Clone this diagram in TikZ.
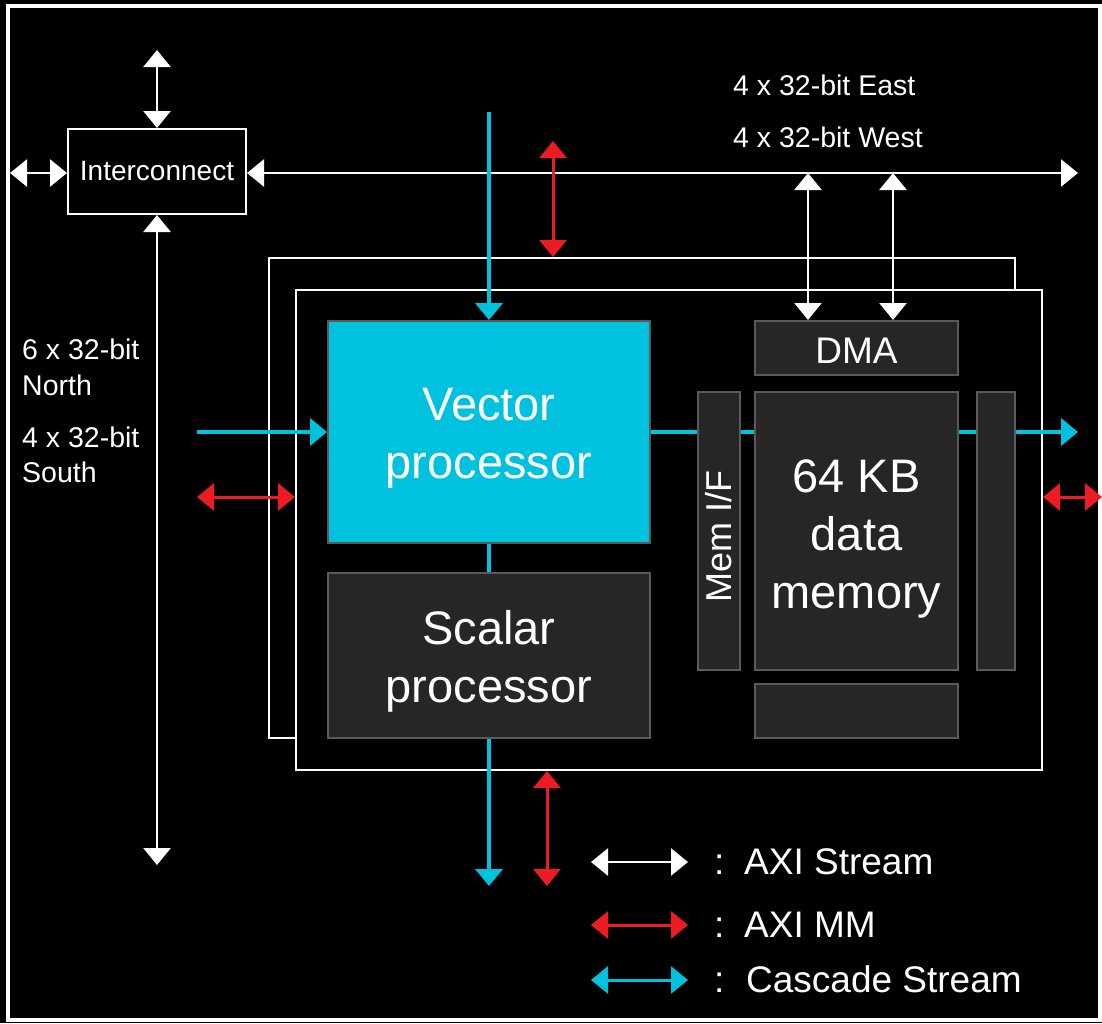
\documentclass[tikz,border=0pt]{standalone}
\usepackage{fontspec}
\setmainfont{Liberation Sans}
\usetikzlibrary{arrows.meta}
\definecolor{cyanc}{HTML}{00C1DE}
\definecolor{redc}{HTML}{ED1C24}
\definecolor{boxfill}{HTML}{262626}
\definecolor{boxline}{HTML}{5A5A5A}
\tikzset{
  tipw/.tip={Triangle[width=27pt,length=17pt]},
  wharrow/.style={white, line width=2.5pt},
  cyarrow/.style={cyanc, line width=4pt},
  rdarrow/.style={redc, line width=3pt},
  darkbox/.style={draw=boxline, fill=boxfill, line width=2pt, inner sep=0pt, text=white, align=center},
  framebox/.style={draw=white, fill=black, line width=2pt, inner sep=0pt},
  smalltxt/.style={text=white, font=\fontsize{28.5}{34}\selectfont, inner sep=0pt},
  bigtxt/.style={text=white, align=center, inner sep=0pt, font=\fontsize{47}{58}\selectfont},
}
\begin{document}
\begin{tikzpicture}[x=1pt,y=-1pt]
\fill[black] (0,0) rectangle (1102,1023);
\useasboundingbox (0,0) rectangle (1102,1023);
\draw[white, line width=3.5pt] (8,6) rectangle (1100,1020);

% tile frames
\node[framebox, minimum width=746pt, minimum height=480pt] (back) at (642,498) {};
\node[framebox, minimum width=746pt, minimum height=480pt] (front) at (669,530) {};

% interconnect
\node[framebox, minimum width=178pt, minimum height=85pt, text=white, font=\fontsize{28}{32}\selectfont] (ic) at (157,171.5) {Interconnect};

% processors
\node[darkbox, fill=cyanc, minimum width=322pt, minimum height=222pt] (vec) at (489,432) {};
\node[bigtxt, yshift=-6pt] (vect) at (vec.center) {Vector\\processor};
\node[darkbox, minimum width=322pt, minimum height=165pt] (scal) at (489,655.5) {};
\node[bigtxt, yshift=-6pt] (scalt) at (scal.center) {Scalar\\processor};

% memory side
\node[darkbox, minimum width=203pt, minimum height=54pt] (dma) at (856.5,348) {};
\node[text=white, inner sep=0pt, font=\fontsize{37}{44}\selectfont, yshift=-3pt] (dmat) at (dma.center) {DMA};
\node[darkbox, minimum width=42pt, minimum height=278pt] (mem) at (719,531) {};
\node[text=white, inner sep=0pt, rotate=90, font=\fontsize{36}{42}\selectfont] (memt) at (719,536) {Mem I/F};
\node[darkbox, minimum width=203pt, minimum height=278pt] (data) at (856.5,531) {};
\node[bigtxt, yshift=-8pt] (datat) at (data.center) {64 KB\\data\\memory};
\node[darkbox, minimum width=38pt, minimum height=278pt] (rbox) at (996,531) {};
\node[darkbox, minimum width=203pt, minimum height=54pt] (bbox) at (856.5,711) {};

% coordinates
\coordinate (icTop) at (157,50);
\coordinate (icLeft) at (10,173);
\coordinate (icRight) at (1078,173);
\coordinate (icBot) at (157,865);
\coordinate (cyTop) at (489,112);
\coordinate (rdTop) at (553,141);
\coordinate (cyLeft) at (197,432);
\coordinate (cyRight) at (1078,432);
\coordinate (rdLeft) at (197,497);
\coordinate (rdRight) at (1102,497);
\coordinate (cyBot) at (489,886);
\coordinate (rdBot) at (547,886);
\coordinate (dmaA) at (808,321);
\coordinate (dmaB) at (893,321);

% interconnect arrows
\draw[wharrow, {tipw}-{tipw}] (icTop) -- (ic.north);
\draw[wharrow, {tipw}-{tipw}] (icLeft) -- (icLeft -| ic.west);
\draw[wharrow, {tipw}-{tipw}] (icLeft -| ic.east) -- (icRight);
\draw[wharrow, {tipw}-{tipw}] (ic.south) -- (icBot);
\draw[wharrow, {tipw}-{tipw}] (dmaA |- icRight) -- (dmaA |- dma.north);
\draw[wharrow, {tipw}-{tipw}] (dmaB |- icRight) -- (dmaB |- dma.north);

% cascade / MM arrows top
\draw[cyarrow, -{tipw}] (cyTop) -- (vec.north);
\draw[rdarrow, {tipw}-{tipw}] (rdTop) -- (rdTop |- back.north);

% horizontal cascade
\draw[cyarrow, -{tipw}] (cyLeft) -- (cyLeft -| vec.west);
\draw[cyarrow] (cyLeft -| vec.east) -- (cyLeft -| mem.west);
\draw[cyarrow] (cyLeft -| mem.east) -- (cyLeft -| data.west);
\draw[cyarrow] (cyLeft -| data.east) -- (cyLeft -| rbox.west);
\draw[cyarrow, -{tipw}] (cyLeft -| rbox.east) -- (cyRight);

% side MM
\draw[rdarrow, {tipw}-{tipw}] (rdLeft) -- (rdLeft -| front.west);
\draw[rdarrow, {tipw}-{tipw}] (rdLeft -| front.east) -- (rdRight);

% vertical cascade
\draw[cyarrow] (vec.south) -- (scal.north);
\draw[cyarrow, -{tipw}] (scal.south) -- (cyBot);
\draw[rdarrow, {tipw}-{tipw}] (rdBot |- front.south) -- (rdBot);

% labels
\node[smalltxt, anchor=base west] (lE) at (733,95) {4 x 32-bit East};
\node[smalltxt, anchor=base west] (lW) at (733,147) {4 x 32-bit West};
\node[smalltxt, anchor=base west] (lN1) at (22,359) {6 x 32-bit};
\node[smalltxt, anchor=base west] (lN2) at (22,395) {North};
\node[smalltxt, anchor=base west] (lS1) at (22,447) {4 x 32-bit};
\node[smalltxt, anchor=base west] (lS2) at (22,482) {South};

% legend
\coordinate (lgA1) at (591,862); \coordinate (lgA2) at (688,862);
\coordinate (lgB1) at (591,925); \coordinate (lgB2) at (688,925);
\coordinate (lgC1) at (591,980); \coordinate (lgC2) at (688,980);
\draw[wharrow, {tipw}-{tipw}] (lgA1) -- (lgA2);
\draw[rdarrow, {tipw}-{tipw}] (lgB1) -- (lgB2);
\draw[cyarrow, line width=3pt, {tipw}-{tipw}] (lgC1) -- (lgC2);
\tikzset{legtxt/.style={text=white, font=\fontsize{37}{44}\selectfont, inner sep=0pt, anchor=base west}}
\node[legtxt] (lc1) at (714,874) {:};
\node[legtxt] (lt1) at (744,874) {AXI Stream};
\node[legtxt] (lc2) at (714,937) {:};
\node[legtxt] (lt2) at (744,937) {AXI MM};
\node[legtxt] (lc3) at (714,992) {:};
\node[legtxt] (lt3) at (746,992) {Cascade Stream};
\end{tikzpicture}
\end{document}
